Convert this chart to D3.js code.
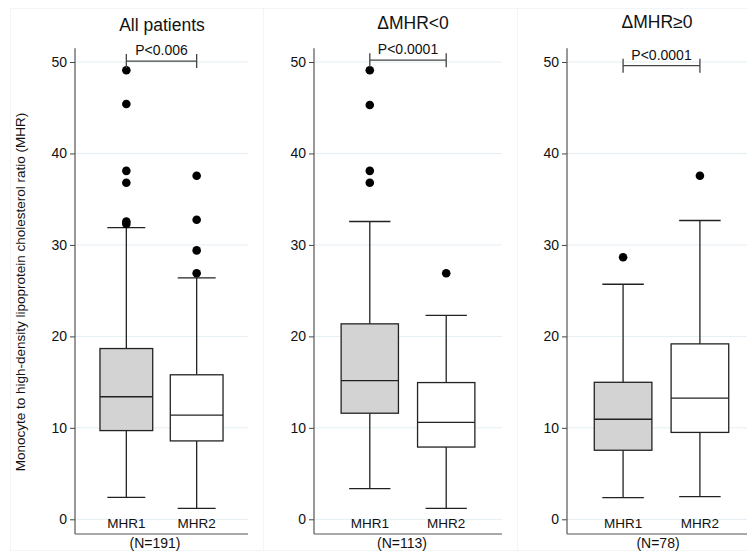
<!DOCTYPE html>
<html>
<head>
<meta charset="utf-8">
<script src="https://cdn.jsdelivr.net/npm/d3@7"></script>
<style>
  body { margin: 0; background: #fff; }
  text { font-family: "Liberation Sans", Arial, sans-serif; fill: #111; }
</style>
</head>
<body>
<div id="d3"></div>
<script>
// data
const panelTitles = ['All patients', 'ΔMHR<0', 'ΔMHR≥0']
const pValues = ['P<0.006', 'P<0.0001', 'P<0.0001']
const nLabels = ['(N=191)', '(N=113)', '(N=78)']
const groups = ['MHR1', 'MHR2']
const yTicks = [0, 10, 20, 30, 40, 50]

const lowWhisker = [[2.4, 1.2], [3.35, 1.2], [2.36, 2.47]]
const q1 = [[9.7, 8.57], [11.6, 7.9], [7.55, 9.5]]
const median = [[13.4, 11.4], [15.17, 10.6], [10.94, 13.24]]
const q3 = [[18.67, 15.8], [21.37, 14.95], [14.98, 19.18]]
const highWhisker = [[31.9, 26.4], [32.56, 22.3], [25.7, 32.67]]
const outliers = [
  [[49.1, 45.4, 38.1, 36.8, 32.55, 32.3], [37.56, 32.75, 29.4, 26.9]],
  [[49.1, 45.3, 38.1, 36.8], [26.9]],
  [[28.66], [37.56]]
]
const bracketY = [50.1, 50.2, 49.6]

// layout
const width = 747
const height = 552
const panels = [
  { left: 10, right: 263, axisX: 75, end: 248, titleX: 162, titleY: 31, nX: 155 },
  { left: 263, right: 517, axisX: 314, end: 502, titleX: 413, titleY: 29, nX: 402 },
  { left: 517, right: 747, axisX: 567, end: 756, titleX: 657, titleY: 28, nX: 658 }
]
const fills = ['#d3d3d3', '#ffffff']

const yScale = d3.scaleLinear().domain([0, 50]).range([519.3, 62])
const axisBottomY = 534

const svg = d3.select('#d3')
  .append('svg')
  .attr('width', width)
  .attr('height', height)

panels.forEach((p, k) => {
  const g = svg.append('g')

  // subgraph frame
  g.append('rect')
    .attr('x', p.left + 0.5)
    .attr('y', 8.5)
    .attr('width', p.right - p.left)
    .attr('height', 542)
    .attr('fill', 'none')
    .attr('stroke', '#f1f5f7')

  const xScale = d3.scalePoint()
    .domain(groups)
    .range([p.axisX, p.end])
    .padding(0.73)
  const step = xScale.step()
  const boxW = step * 0.75
  const capW = boxW * 0.72

  // gridlines
  g.selectAll('.grid')
    .data(yTicks)
    .enter()
    .append('line')
    .attr('x1', p.axisX)
    .attr('x2', Math.min(p.end, width))
    .attr('y1', d => yScale(d))
    .attr('y2', d => yScale(d))
    .attr('stroke', '#e4eef3')
    .attr('stroke-width', 1)

  // y axis
  const yAxis = d3.axisLeft(yScale)
    .tickValues(yTicks)
    .tickSize(5)
    .tickPadding(3)
  const ax = g.append('g')
    .attr('transform', `translate(${p.axisX}, 0)`)
    .call(yAxis)
  ax.select('.domain').remove()
  ax.selectAll('.tick line').attr('stroke', '#444')
  ax.selectAll('.tick text')
    .style('font-size', '14px')
    .style('font-family', '"Liberation Sans", Arial, sans-serif')
    .attr('fill', '#111')
  g.append('line')
    .attr('x1', p.axisX).attr('x2', p.axisX)
    .attr('y1', yScale(51.5)).attr('y2', axisBottomY)
    .attr('stroke', '#555').attr('stroke-width', 1.2)
  g.append('line')
    .attr('x1', p.axisX).attr('x2', Math.min(p.end, width))
    .attr('y1', axisBottomY).attr('y2', axisBottomY)
    .attr('stroke', '#555').attr('stroke-width', 1.2)

  // boxes
  const boxes = g.selectAll('.box')
    .data(groups)
    .enter()
    .append('g')
    .attr('transform', d => `translate(${xScale(d)}, 0)`)

  boxes.append('line')
    .attr('y1', (d, i) => yScale(lowWhisker[k][i]))
    .attr('y2', (d, i) => yScale(q1[k][i]))
    .attr('stroke', '#222').attr('stroke-width', 1.3)
  boxes.append('line')
    .attr('y1', (d, i) => yScale(q3[k][i]))
    .attr('y2', (d, i) => yScale(highWhisker[k][i]))
    .attr('stroke', '#222').attr('stroke-width', 1.3)
  boxes.append('line')
    .attr('x1', -capW / 2).attr('x2', capW / 2)
    .attr('y1', (d, i) => yScale(lowWhisker[k][i]))
    .attr('y2', (d, i) => yScale(lowWhisker[k][i]))
    .attr('stroke', '#222').attr('stroke-width', 1.3)
  boxes.append('line')
    .attr('x1', -capW / 2).attr('x2', capW / 2)
    .attr('y1', (d, i) => yScale(highWhisker[k][i]))
    .attr('y2', (d, i) => yScale(highWhisker[k][i]))
    .attr('stroke', '#222').attr('stroke-width', 1.3)
  boxes.append('rect')
    .attr('x', -boxW / 2)
    .attr('width', boxW)
    .attr('y', (d, i) => yScale(q3[k][i]))
    .attr('height', (d, i) => yScale(q1[k][i]) - yScale(q3[k][i]))
    .attr('fill', (d, i) => fills[i])
    .attr('stroke', '#222').attr('stroke-width', 1.3)
  boxes.append('line')
    .attr('x1', -boxW / 2).attr('x2', boxW / 2)
    .attr('y1', (d, i) => yScale(median[k][i]))
    .attr('y2', (d, i) => yScale(median[k][i]))
    .attr('stroke', '#222').attr('stroke-width', 1.3)

  boxes.each(function (d, i) {
    d3.select(this).selectAll('circle')
      .data(outliers[k][i])
      .enter()
      .append('circle')
      .attr('cx', 0)
      .attr('cy', v => yScale(v))
      .attr('r', 4.3)
      .attr('fill', '#000')
  })

  // category labels
  g.selectAll('.cat')
    .data(groups)
    .enter()
    .append('text')
    .attr('x', d => xScale(d))
    .attr('y', 528)
    .attr('text-anchor', 'middle')
    .style('font-size', '13.5px')
    .text(d => d)

  // p-value bracket
  const by = yScale(bracketY[k])
  const bx1 = xScale(groups[0])
  const bx2 = xScale(groups[1])
  g.append('path')
    .attr('d', `M${bx1},${by - 7}V${by + 7}M${bx1},${by}H${bx2}M${bx2},${by - 7}V${by + 7}`)
    .attr('fill', 'none')
    .attr('stroke', '#444').attr('stroke-width', 1.3)
  g.append('text')
    .attr('x', (bx1 + bx2) / 2)
    .attr('y', by - 6)
    .attr('text-anchor', 'middle')
    .style('font-size', '14px')
    .text(pValues[k])

  // title and N
  g.append('text')
    .attr('x', p.titleX)
    .attr('y', p.titleY)
    .attr('text-anchor', 'middle')
    .style('font-size', '17.5px')
    .attr('fill', '#1a1a3a')
    .text(panelTitles[k])
  g.append('text')
    .attr('x', p.nX)
    .attr('y', 548)
    .attr('text-anchor', 'middle')
    .style('font-size', '14px')
    .text(nLabels[k])
})

svg.append('text')
  .attr('transform', 'translate(25, 292) rotate(-90)')
  .attr('text-anchor', 'middle')
  .style('font-size', '13.5px')
  .text('Monocyte to high-density lipoprotein cholesterol ratio (MHR)')
</script>
</body>
</html>
